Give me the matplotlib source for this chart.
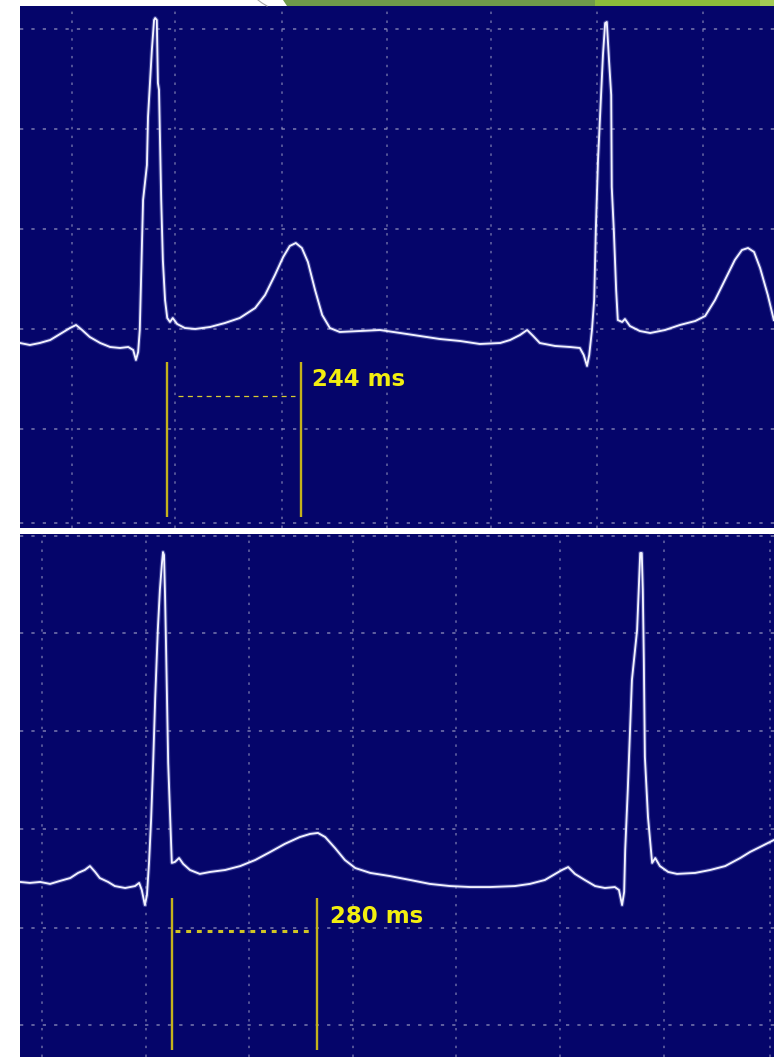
import matplotlib
matplotlib.use("Agg")
import matplotlib.pyplot as plt
from matplotlib.patches import Polygon
from matplotlib.transforms import Affine2D

# ---------------- data ----------------
# Top recording: time (ms) and amplitude (mV)
top_t = [0, 18, 36, 55, 73, 91, 102, 113, 127, 146, 164, 182, 197, 206, 211, 215, 218,
         224, 231, 233, 240, 244, 246, 249, 251, 253, 257, 260, 264, 268, 273, 278, 286,
         300, 319, 346, 373, 400, 428, 446, 464, 479, 491, 502, 513, 524, 537, 550, 564,
         582, 619, 655, 692, 728, 764, 801, 837, 874, 892, 910, 923, 934, 946, 974, 1001,
         1019, 1026, 1032, 1036, 1041, 1045, 1048, 1052, 1056, 1061, 1065, 1068, 1072,
         1076, 1077, 1081, 1085, 1088, 1096, 1101, 1110, 1128, 1147, 1174, 1201, 1229,
         1247, 1265, 1283, 1301, 1314, 1325, 1336, 1347, 1361, 1372]
top_v = [-0.015, -0.025, -0.015, 0.0, 0.03, 0.06, 0.075, 0.05, 0.015, -0.015, -0.035, -0.04,
         -0.035, -0.05, -0.10, -0.06, 0.05, 0.70, 0.875, 1.115, 1.45, 1.60, 1.61, 1.60,
         1.285, 1.25, 0.70, 0.40, 0.20, 0.11, 0.09, 0.11, 0.08, 0.06, 0.055, 0.065, 0.085,
         0.11, 0.16, 0.225, 0.325, 0.415, 0.47, 0.485, 0.46, 0.39, 0.25, 0.125, 0.06, 0.04,
         0.045, 0.05, 0.035, 0.02, 0.005, -0.005, -0.02, -0.015, 0.0, 0.025, 0.05, 0.02,
         -0.015, -0.03, -0.035, -0.04, -0.075, -0.13, -0.075, 0.05, 0.20, 0.55, 0.90, 1.135,
         1.425, 1.585, 1.59, 1.40, 1.225, 0.765, 0.535, 0.25, 0.10, 0.09, 0.105, 0.07,
         0.045, 0.035, 0.05, 0.075, 0.095, 0.12, 0.20, 0.30, 0.40, 0.45, 0.46, 0.44, 0.36,
         0.225, 0.10]

# Bottom recording
bot_t = [0, 19, 39, 58, 77, 97, 112, 125, 135, 145, 154, 170, 183, 203, 222, 230, 235, 241,
         245, 249, 253, 257, 261, 266, 270, 274, 276, 278, 280, 282, 286, 290, 293, 299,
         307, 315, 328, 347, 367, 396, 425, 454, 483, 511, 540, 560, 575, 589, 608, 627,
         647, 676, 714, 753, 791, 830, 869, 907, 955, 984, 1013, 1033, 1046, 1058, 1071,
         1090, 1110, 1129, 1148, 1156, 1162, 1166, 1168, 1173, 1181, 1191, 1197, 1200,
         1202, 1204, 1206, 1212, 1220, 1226, 1235, 1251, 1268, 1303, 1332, 1361, 1390,
         1409, 1428, 1455]
bot_v = [-0.010, -0.015, -0.010, -0.020, -0.005, 0.010, 0.036, 0.051, 0.071, 0.041, 0.010,
         -0.010, -0.031, -0.041, -0.031, -0.015, -0.051, -0.128, -0.077, 0.087, 0.306,
         0.597, 0.934, 1.276, 1.480, 1.617, 1.673, 1.658, 1.444, 1.173, 0.597, 0.306,
         0.087, 0.092, 0.112, 0.082, 0.051, 0.031, 0.041, 0.051, 0.071, 0.102, 0.143,
         0.184, 0.219, 0.235, 0.240, 0.219, 0.163, 0.102, 0.061, 0.036, 0.020, 0.0,
         -0.020, -0.031, -0.036, -0.036, -0.031, -0.020, 0.0, 0.031, 0.051, 0.066, 0.031,
         0.0, -0.031, -0.041, -0.036, -0.051, -0.128, -0.061, 0.153, 0.459, 1.020, 1.276,
         1.668, 1.668, 1.480, 1.122, 0.628, 0.321, 0.087, 0.112, 0.071, 0.041, 0.031,
         0.036, 0.051, 0.071, 0.112, 0.143, 0.168, 0.204]

# Grid positions (ms / mV)
top_grid_t = [95, 283, 476, 668, 858, 1051, 1243]
top_grid_v = [1.555, 1.055, 0.555, 0.055, -0.445, -0.915]
bot_grid_t = [42, 243, 442, 643, 841, 1042, 1243, 1447]
bot_grid_v = [1.755, 1.26, 0.76, 0.26, -0.245, -0.74]

# Caliper measurements
top_caliper_start = 268
top_interval = 244
bot_caliper_start = 293
bot_interval = 280

# ---------------- styling ----------------
W, H = 774, 1057
NAVY = "#05056a"
TRACE = "#f2f2ff"
GRIDC = "#8a8ab8"
CAL = "#c4b21c"
TXT = "#f2ee10"

fig = plt.figure(figsize=(W / 100, H / 100), dpi=100)
fig.patch.set_facecolor("white")

pix = Affine2D().scale(1 / W, -1 / H).translate(0, 1) + fig.transFigure


def px_axes(x0, y0, x1, y1):
    return fig.add_axes([x0 / W, 1 - y1 / H, (x1 - x0) / W, (y1 - y0) / H])


def setup(ax, xlim, ylim, gt, gv):
    ax.set_facecolor(NAVY)
    ax.set_xlim(*xlim)
    ax.set_ylim(*ylim)
    for s in ax.spines.values():
        s.set_visible(False)
    ax.set_xticks(gt)
    ax.set_yticks(gv)
    ax.tick_params(length=0, labelbottom=False, labelleft=False)
    ax.grid(axis="x", color=GRIDC, lw=1.1, linestyle=(0, (1.6, 4.2)), alpha=0.75)
    ax.grid(axis="y", color=GRIDC, lw=1.3, linestyle=(0, (1.8, 4.5)), alpha=0.75)
    ax.set_axisbelow(True)


def trace(ax, t, v):
    ax.plot(t, v, color="#9aa0e8", lw=3.0, alpha=0.35, solid_joinstyle="round",
            solid_capstyle="round", zorder=3)
    ax.plot(t, v, color=TRACE, lw=1.35, solid_joinstyle="round", zorder=4)


# top panel
ax1 = px_axes(20, 6, 774, 528)
setup(ax1, (0, 1372.3), (-0.94, 1.67), top_grid_t, top_grid_v)
trace(ax1, top_t, top_v)
ax1.vlines([top_caliper_start, top_caliper_start + top_interval], -0.885, -0.11,
           color=CAL, lw=1.7, zorder=5)
ax1.hlines(-0.28, top_caliper_start + 20, top_caliper_start + top_interval - 12,
           color="#d8cc30", lw=0.9, linestyles=(0, (4, 3.5)), zorder=5)
ax1.text(top_caliper_start + top_interval + 20, -0.195, f"{top_interval} ms",
         color=TXT, fontsize=16.5, fontweight="bold", va="center", ha="left", zorder=6)

# bottom panel
ax2 = px_axes(20, 534, 774, 1057)
setup(ax2, (0, 1455.2), (-0.903, 1.765), bot_grid_t, bot_grid_v)
trace(ax2, bot_t, bot_v)
ax2.vlines([bot_caliper_start, bot_caliper_start + bot_interval], -0.867, -0.092,
           color=CAL, lw=1.7, zorder=5)
ax2.hlines(-0.26, bot_caliper_start + 6, bot_caliper_start + bot_interval - 6,
           color="#d0c424", lw=2.2, linestyles=(0, (1.6, 1.9)), zorder=5)
ax2.text(bot_caliper_start + bot_interval + 25, -0.184, f"{bot_interval} ms",
         color=TXT, fontsize=16.5, fontweight="bold", va="center", ha="left", zorder=6)

# slide decoration at the top edge
fig.add_artist(Polygon([(283, 0), (595, 0), (595, 6), (287, 6)], closed=True,
                       facecolor="#6f9a4a", edgecolor="none", transform=pix))
fig.add_artist(Polygon([(595, 0), (760, 0), (760, 6), (595, 6)], closed=True,
                       facecolor="#8cbc3b", edgecolor="none", transform=pix))
fig.add_artist(Polygon([(760, 0), (774, 0), (774, 6), (760, 6)], closed=True,
                       facecolor="#a3cc55", edgecolor="none", transform=pix))
fig.add_artist(plt.Line2D([258, 262, 267], [0, 3, 6], color="#a8a8a8", lw=0.8, transform=pix))

fig.savefig("out.png", dpi=100, facecolor="white")
